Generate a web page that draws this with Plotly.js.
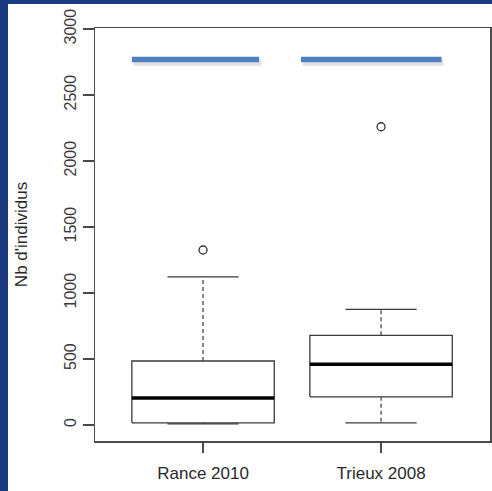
<!DOCTYPE html>
<html>
<head>
<meta charset="utf-8">
<script src="https://cdn.plot.ly/plotly-3.0.1.min.js"></script>
<style>
  html, body { margin: 0; padding: 0; background: #1b3a80; width: 492px; height: 491px; overflow: hidden; }
  #chart { position: absolute; left: 8px; top: 4px; width: 484px; height: 487px; background: #ffffff; }
</style>
</head>
<body>
<div id="chart"></div>
<script>
// ---- data ----
const categories = ["Rance 2010", "Trieux 2008"];
const positions = [1, 2];
const lowerWhisker = [8, 17];
const q1 = [17, 214];
const median = [205, 460];
const q3 = [485, 680];
const upperWhisker = [1123, 876];
const outliers = [[1326], [2260]];
const yTicks = [0, 500, 1000, 1500, 2000, 2500, 3000];
// highlight bars drawn over the chart
const highlightLevel = [2769, 2769];
const highlightStart = [0.60, 1.55];
const highlightEnd = [1.315, 2.34];

const boxHalf = 0.4, capHalf = 0.2;
const lineCol = "#3a3a3a";
const traces = [];

positions.forEach((p, i) => {
  // whiskers (dashed)
  traces.push({x: [p, p, null, p, p], y: [q3[i], upperWhisker[i], null, q1[i], lowerWhisker[i]],
    mode: "lines", line: {color: lineCol, width: 1.2, dash: "4px,3px"}, hoverinfo: "skip"});
  // caps
  traces.push({x: [p - capHalf, p + capHalf, null, p - capHalf, p + capHalf],
    y: [upperWhisker[i], upperWhisker[i], null, lowerWhisker[i], lowerWhisker[i]],
    mode: "lines", line: {color: lineCol, width: 1.3}, hoverinfo: "skip"});
  // box
  traces.push({x: [p - boxHalf, p + boxHalf, p + boxHalf, p - boxHalf, p - boxHalf],
    y: [q1[i], q1[i], q3[i], q3[i], q1[i]], mode: "lines", fill: "toself", fillcolor: "#ffffff",
    line: {color: lineCol, width: 1.3}, hoverinfo: "skip"});
  // median
  traces.push({x: [p - boxHalf, p + boxHalf], y: [median[i], median[i]],
    mode: "lines", line: {color: "#000000", width: 3.5}, hoverinfo: "skip"});
  // outliers
  traces.push({x: outliers[i].map(() => p), y: outliers[i], mode: "markers",
    marker: {symbol: "circle-open", size: 8, color: "#333333", line: {width: 1.3}}, hoverinfo: "skip"});
});

// highlight bars with a soft shadow
traces.push({x: highlightStart.flatMap((s, i) => [s + 0.01, highlightEnd[i] + 0.01, null]),
  y: highlightLevel.flatMap(v => [v - 25, v - 25, null]), mode: "lines",
  line: {color: "rgba(0,0,0,0.12)", width: 6}, hoverinfo: "skip"});
traces.push({x: highlightStart.flatMap((s, i) => [s, highlightEnd[i], null]),
  y: highlightLevel.flatMap(v => [v, v, null]), mode: "lines",
  line: {color: "#4f7fc0", width: 5.5}, hoverinfo: "skip"});

const fam = "Liberation Sans, Arial, sans-serif";
const txtCol = "#2a2a2a";

const layout = {
  width: 484, height: 487,
  margin: {l: 87, r: 2, t: 24, b: 50},
  paper_bgcolor: "#ffffff", plot_bgcolor: "#ffffff",
  showlegend: false,
  font: {family: fam, size: 16, color: txtCol},
  xaxis: {
    range: [0.393, 2.612], tickvals: positions, ticktext: categories,
    showgrid: false, zeroline: false, showline: true, mirror: true,
    linecolor: "#4a4a4a", linewidth: 1.5,
    ticks: "outside", ticklen: 10, tickcolor: "#4a4a4a", tickwidth: 1.2,
    ticklabelstandoff: 6,
    tickfont: {family: fam, size: 17, color: txtCol}, fixedrange: true
  },
  yaxis: {
    range: [-121, 3008], tickvals: yTicks, tickangle: -90,
    showgrid: false, zeroline: false, showline: true, mirror: true,
    linecolor: "#4a4a4a", linewidth: 1.5,
    ticks: "outside", ticklen: 11, tickcolor: "#4a4a4a", tickwidth: 1.2,
    tickfont: {family: fam, size: 16, color: "#3a3a3a"},
    title: {text: "Nb d'individus", font: {family: fam, size: 17, color: txtCol}, standoff: 30},
    fixedrange: true
  }
};

Plotly.newPlot("chart", traces, layout, {displayModeBar: false, staticPlot: true});
</script>
</body>
</html>
